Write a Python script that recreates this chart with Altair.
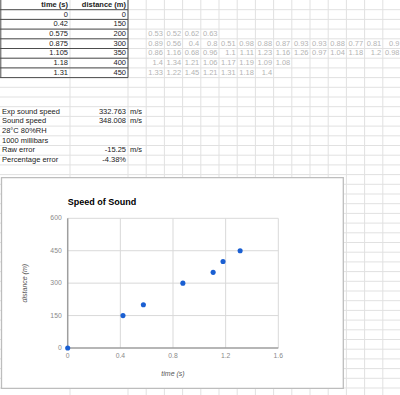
import altair as alt
import pandas as pd

# ---------------- data ----------------
time_s = [0, 0.42, 0.575, 0.875, 1.105, 1.18, 1.31]
distance_m = [0, 150, 200, 300, 350, 400, 450]
header = ["time (s)", "distance (m)"]
readings = [
    [0.53, 0.52, 0.62, 0.63],
    [0.89, 0.56, 0.4, 0.8, 0.51, 0.98, 0.88, 0.87, 0.93, 0.93, 0.88, 0.77, 0.81, 0.9],
    [0.86, 1.16, 0.68, 0.96, 1.1, 1.11, 1.23, 1.16, 1.26, 0.97, 1.04, 1.18, 1.2, 0.98],
    [1.4, 1.34, 1.21, 1.06, 1.17, 1.19, 1.09, 1.08],
    [1.33, 1.22, 1.45, 1.21, 1.31, 1.18, 1.4],
]
summary_labels = ["Exp sound speed", "Sound speed", "28°C 80%RH", "1000 millibars",
                  "Raw error", "Percentage error"]
summary_values = ["332.763", "348.008", "", "", "-15.25", "-4.38%"]
summary_units = ["m/s", "m/s", "", "", "m/s", ""]
x_ticks = [0, 0.4, 0.8, 1.2, 1.6]
y_ticks = [0, 150, 300, 450, 600]
chart_title = "Speed of Sound"
x_title = "time (s)"
y_title = "distance (m)"

# ---------------- layout (pixels) ----------------
W, H = 400, 395
col_edges = [0, 70, 128] + [128 + 18.2 * k for k in range(1, 16)]
row_h = 9.7
row_edges = [row_h * k for k in range(0, 42)]
READ_ROW0, READ_COL0 = 3, 3
SUM_ROW0 = 11
TABLE_ROWS = 8
PX0, PX1 = 67.7, 278.3
PY0, PY1 = 348.0, 218.3
BOX = (1.5, 177.7, 343.3, 388.3)
FONT = "Liberation Sans"

PXX = alt.Scale(domain=[0, W], range=[0, W], nice=False, zero=False)
PXY = alt.Scale(domain=[0, H], range=[0, H], nice=False, zero=False)
SX = alt.Scale(domain=[x_ticks[0], x_ticks[-1]], range=[PX0, PX1], nice=False, zero=False)
SY = alt.Scale(domain=[y_ticks[0], y_ticks[-1]], range=[PY0, PY1], nice=False, zero=False)


def px(field):
    return alt.X(f"{field}:Q", scale=PXX, axis=None)


def py(field):
    return alt.Y(f"{field}:Q", scale=PXY, axis=None)


def fmt(v):
    return f"{v:g}"


def rcenter(r):
    return (row_edges[r] + row_edges[r + 1]) / 2


# ---------- spreadsheet grid ----------
vgrid = pd.DataFrame({"x": col_edges[1:], "y": 0, "y2": H})
hgrid = pd.DataFrame({"y": row_edges[1:], "x": 0, "x2": W})
grid_v = alt.Chart(vgrid).mark_rule(color="#e1e1e1", strokeWidth=1).encode(
    x=px("x"), y=py("y"), y2="y2:Q")
grid_h = alt.Chart(hgrid).mark_rule(color="#e1e1e1", strokeWidth=1).encode(
    y=py("y"), x=px("x"), x2="x2:Q")

tb_h = pd.DataFrame({"y": row_edges[1:TABLE_ROWS + 1], "x": 0, "x2": col_edges[2]})
tb_v = pd.DataFrame({"x": [0.8, col_edges[2]], "y": 0, "y2": row_edges[TABLE_ROWS]})
table_h = alt.Chart(tb_h).mark_rule(color="#4d4d4d", strokeWidth=1).encode(
    y=py("y"), x=px("x"), x2="x2:Q")
table_v = alt.Chart(tb_v).mark_rule(color="#4d4d4d", strokeWidth=1).encode(
    x=px("x"), y=py("y"), y2="y2:Q")

# ---------- spreadsheet texts ----------
right_rows, left_rows, gray_rows, bold_rows = [], [], [], []
for c, h in enumerate(header):
    bold_rows.append({"t": h, "x": col_edges[c + 1], "y": rcenter(0)})
for i, (t, d) in enumerate(zip(time_s, distance_m)):
    right_rows.append({"t": fmt(t), "x": col_edges[1], "y": rcenter(i + 1)})
    right_rows.append({"t": fmt(d), "x": col_edges[2], "y": rcenter(i + 1)})
for i, (lab, val, unit) in enumerate(zip(summary_labels, summary_values, summary_units)):
    r = SUM_ROW0 + i
    left_rows.append({"t": lab, "x": col_edges[0], "y": rcenter(r)})
    if val:
        right_rows.append({"t": val, "x": col_edges[2], "y": rcenter(r)})
    if unit:
        left_rows.append({"t": unit, "x": col_edges[2], "y": rcenter(r)})
for i, row in enumerate(readings):
    for j, v in enumerate(row):
        gray_rows.append({"t": fmt(v), "x": col_edges[READ_COL0 + j + 1],
                          "y": rcenter(READ_ROW0 + i)})

txt_kw = dict(font=FONT, fontSize=7.5, baseline="middle")
t_bold = alt.Chart(pd.DataFrame(bold_rows)).mark_text(
    align="right", dx=-2, color="#222222", fontWeight="bold", **txt_kw).encode(
    x=px("x"), y=py("y"), text="t:N")
t_right = alt.Chart(pd.DataFrame(right_rows)).mark_text(
    align="right", dx=-2, color="#222222", **txt_kw).encode(
    x=px("x"), y=py("y"), text="t:N")
t_left = alt.Chart(pd.DataFrame(left_rows)).mark_text(
    align="left", dx=2, color="#222222", **txt_kw).encode(
    x=px("x"), y=py("y"), text="t:N")
t_gray = alt.Chart(pd.DataFrame(gray_rows)).mark_text(
    align="right", dx=-1.5, color="#b4b4b4", **txt_kw).encode(
    x=px("x"), y=py("y"), text="t:N")

# ---------- chart box ----------
box_df = pd.DataFrame({"x": [BOX[0]], "y": [BOX[1]], "x2": [BOX[2]], "y2": [BOX[3]]})
box = alt.Chart(box_df).mark_rect(fill="white", stroke="#bdbdbd", strokeWidth=1.3).encode(
    x=px("x"), y=py("y"), x2="x2:Q", y2="y2:Q")

# ---------- scatter chart ----------
def cx(field):
    return alt.X(f"{field}:Q", scale=SX, axis=None)


def cy(field):
    return alt.Y(f"{field}:Q", scale=SY, axis=None)


xg = pd.DataFrame({"v": x_ticks[1:], "lo": y_ticks[0], "hi": y_ticks[-1]})
yg = pd.DataFrame({"v": y_ticks[1:], "lo": x_ticks[0], "hi": x_ticks[-1]})
gx = alt.Chart(xg).mark_rule(color="#d9d9d9", strokeWidth=1).encode(
    x=cx("v"), y=cy("lo"), y2="hi:Q")
gy = alt.Chart(yg).mark_rule(color="#d9d9d9", strokeWidth=1).encode(
    y=cy("v"), x=cx("lo"), x2="hi:Q")
ax_x = alt.Chart(pd.DataFrame({"v": [y_ticks[0]], "lo": [x_ticks[0]], "hi": [x_ticks[-1]]})).mark_rule(
    color="#9e9e9e", strokeWidth=1.5).encode(y=cy("v"), x=cx("lo"), x2="hi:Q")
ax_y = alt.Chart(pd.DataFrame({"v": [x_ticks[0]], "lo": [y_ticks[0]], "hi": [y_ticks[-1]]})).mark_rule(
    color="#9e9e9e", strokeWidth=1.5).encode(x=cx("v"), y=cy("lo"), y2="hi:Q")

pts = alt.Chart(pd.DataFrame({"time": time_s, "distance": distance_m})).mark_circle(
    size=26, color="#1a5fd2", opacity=1).encode(x=cx("time"), y=cy("distance"))

xl = pd.DataFrame({"v": x_ticks, "base": y_ticks[0], "t": [fmt(v) for v in x_ticks]})
yl = pd.DataFrame({"v": y_ticks, "base": x_ticks[0], "t": [fmt(v) for v in y_ticks]})
lab_kw = dict(font=FONT, fontSize=6.8, color="#8a8a8a")
xlab = alt.Chart(xl).mark_text(align="center", baseline="middle", dy=8, **lab_kw).encode(
    x=cx("v"), y=cy("base"), text="t:N")
ylab = alt.Chart(yl).mark_text(align="right", baseline="middle", dx=-6, **lab_kw).encode(
    y=cy("v"), x=cx("base"), text="t:N")

mid_x = (x_ticks[0] + x_ticks[-1]) / 2
mid_y = (y_ticks[0] + y_ticks[-1]) / 2
title_kw = dict(font=FONT, fontSize=7, fontStyle="italic", color="#555555")
xt = alt.Chart(pd.DataFrame({"x": [mid_x], "y": [y_ticks[0]], "t": [x_title]})).mark_text(
    align="center", baseline="middle", dy=26, **title_kw).encode(x=cx("x"), y=cy("y"), text="t:N")
# rotated text: dy acts along the screen x direction after the 270 deg rotation
yt = alt.Chart(pd.DataFrame({"x": [x_ticks[0]], "y": [mid_y], "t": [y_title]})).mark_text(
    align="center", baseline="middle", angle=270, dy=-43, **title_kw).encode(
    x=cx("x"), y=cy("y"), text="t:N")
ttl = alt.Chart(pd.DataFrame({"x": [x_ticks[0]], "y": [y_ticks[-1]], "t": [chart_title]})).mark_text(
    align="left", baseline="middle", dy=-16, font=FONT, fontSize=9, fontWeight="bold",
    color="#000000").encode(x=cx("x"), y=cy("y"), text="t:N")

chart = alt.layer(
    grid_v, grid_h, table_h, table_v, t_bold, t_right, t_left, t_gray,
    box, gx, gy, ax_x, ax_y, pts, xlab, ylab, xt, yt, ttl,
).resolve_scale(x="independent", y="independent").properties(
    width=W, height=H, padding=0, autosize=alt.AutoSizeParams(type="none"),
    background="white",
).configure_view(stroke=None)

chart.save("out.html", embed_options={"renderer": "svg", "actions": False})
